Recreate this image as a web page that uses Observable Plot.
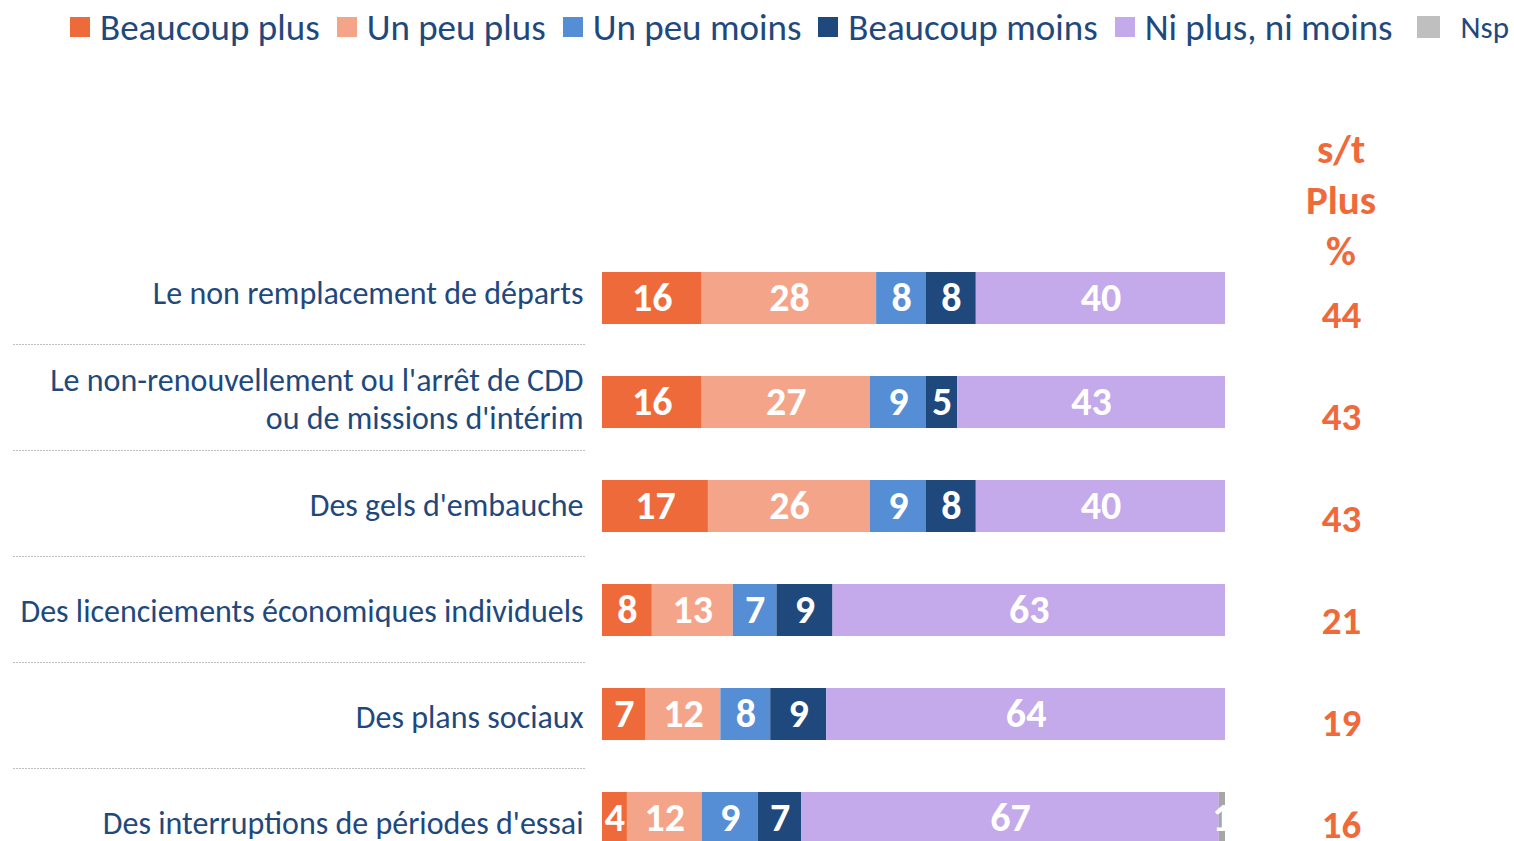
<!DOCTYPE html>
<html><head><meta charset="utf-8">
<script src="https://cdn.jsdelivr.net/npm/d3@7"></script>
<script src="https://cdn.jsdelivr.net/npm/@observablehq/plot@0.6"></script>
<style>
body{margin:0;width:1514px;height:841px;overflow:hidden;background:#fff;font-family:Carlito,Lato,sans-serif;position:relative}
#legend{position:absolute;left:70px;top:0;height:54px;display:flex;align-items:center;white-space:nowrap;color:#1F497D;font-size:37px}
#legend .item{display:flex;align-items:center;margin-right:17px}
#legend .sw{width:20px;height:20px;margin-right:10px;flex:none}
#legend .item.small{font-size:31px;margin-left:7px}
#legend .item.small .sw{width:23px;height:22px;margin-right:21px}
#hdr{position:absolute;left:1291px;width:100px;top:124px;text-align:center;color:#EF6A3A;font-weight:bold;font-size:41px;line-height:51px}
#labels,#chart,#totals{position:absolute;left:0;top:51px}
</style></head>
<body>
<div id="legend"></div>
<div id="hdr"></div>
<div id="labels"></div>
<div id="chart"></div>
<div id="totals"></div>
<script>
const categories = [
  "Le non remplacement de départs",
  "Le non-renouvellement ou l'arrêt de CDD\nou de missions d'intérim",
  "Des gels d'embauche",
  "Des licenciements économiques individuels",
  "Des plans sociaux",
  "Des interruptions de périodes d'essai"
];
const series = ["Beaucoup plus", "Un peu plus", "Un peu moins", "Beaucoup moins", "Ni plus, ni moins", "Nsp"];
const barColors = ["#EF6A3A", "#F4A589", "#558ED5", "#1F497D", "#C4A9EB", "#A6A6A6"];
const legendColors = ["#EF6A3A", "#F4A589", "#558ED5", "#1F497D", "#C4A9EB", "#BFBFBF"];
const beaucoupPlus   = [16, 16, 17, 8, 7, 4];
const unPeuPlus      = [28, 27, 26, 13, 12, 12];
const unPeuMoins     = [8, 9, 9, 7, 8, 9];
const beaucoupMoins  = [8, 5, 8, 9, 9, 7];
const niPlusNiMoins  = [40, 43, 40, 63, 64, 67];
const nsp            = [0, 0, 0, 0, 0, 1];
const stPlus         = [44, 43, 43, 21, 19, 16];
const headerLines    = ["s/t", "Plus", "%"];

const seriesValues = [beaucoupPlus, unPeuPlus, unPeuMoins, beaucoupMoins, niPlusNiMoins, nsp];
const data = series.flatMap((s, j) => categories.map((c, i) => ({category: c, series: s, value: seriesValues[j][i]})));
const totals = categories.map((c, i) => ({category: c, value: stPlus[i]}));

// Legend
const legend = document.getElementById("legend");
series.forEach((s, j) => {
  const item = document.createElement("div");
  item.className = "item" + (s === "Nsp" ? " small" : "");
  const sw = document.createElement("span");
  sw.className = "sw";
  sw.style.background = legendColors[j];
  const t = document.createElement("span");
  t.textContent = s;
  item.append(sw, t);
  legend.append(item);
});
document.getElementById("hdr").innerHTML = headerLines.map(l => `<div>${l}</div>`).join("");

const orange = "#EF6A3A";
const navy = "#1F497D";
const font = "Carlito, Lato, sans-serif";
const yBand = {domain: categories, axis: null, paddingInner: 0.5, paddingOuter: 0.25};

// Left panel: category labels and dotted separators
const labels = Plot.plot({
  width: 600,
  height: 823,
  marginLeft: 13,
  marginRight: 15,
  marginTop: 187,
  marginBottom: 0,
  style: {fontFamily: font, background: "transparent", overflow: "visible"},
  y: yBand,
  marks: [
    Plot.ruleY(categories.slice(1), {y: d => d, dy: -53, stroke: "#BFBFBF", strokeWidth: 1, strokeDasharray: "2,1"}),
    Plot.text(categories, {y: d => d, text: d => d, frameAnchor: "right", dx: -2, textAnchor: "end", fill: navy, fontSize: 32, lineHeight: 1.19})
  ]
});
document.getElementById("labels").append(labels);

// Bars
const chart = Plot.plot({
  width: 1514,
  height: 819,
  marginLeft: 602,
  marginRight: 289,
  marginTop: 194,
  marginBottom: 0,
  style: {fontFamily: font, background: "transparent", overflow: "visible"},
  x: {domain: [0, 100], axis: null},
  y: yBand,
  color: {domain: series, range: barColors},
  marks: [
    Plot.barX(data, Plot.stackX({x: "value", y: "category", fill: "series"})),
    Plot.text(data, Plot.stackX({x: "value", y: "category", z: "series", text: d => d.value > 0 ? String(d.value) : "", fill: "white", fontWeight: "bold", fontSize: 40, clip: true}))
  ]
});
document.getElementById("chart").append(chart);

// s/t Plus column
const totalsChart = Plot.plot({
  width: 1514,
  height: 826,
  marginLeft: 602,
  marginRight: 289,
  marginTop: 211,
  marginBottom: 0,
  style: {fontFamily: font, background: "transparent", overflow: "visible"},
  y: yBand,
  marks: [
    Plot.text(totals, {y: "category", text: d => String(d.value), frameAnchor: "right", dx: 116, textAnchor: "middle", fill: orange, fontWeight: "bold", fontSize: 39})
  ]
});
document.getElementById("totals").append(totalsChart);
</script>
</body></html>
